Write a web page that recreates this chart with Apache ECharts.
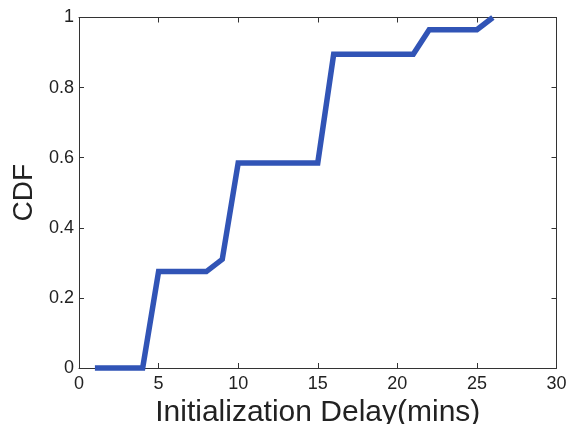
<!DOCTYPE html>
<html>
<head>
<meta charset="utf-8">
<script src="https://cdn.jsdelivr.net/npm/echarts@6/dist/echarts.min.js"></script>
<style>html,body{margin:0;padding:0;background:#fff}#c{width:571px;height:424px}</style>
</head>
<body>
<div id="c"></div>
<script>
const delayMins = [1, 4, 5, 8, 9, 10, 15, 16, 21, 22, 25, 26];
const cdfValues = [0, 0, 0.275, 0.275, 0.31, 0.585, 0.585, 0.895, 0.895, 0.965, 0.965, 1];
const xName = 'Initialization Delay(mins)';
const yName = 'CDF';

const chart = echarts.init(document.getElementById('c'), null, {renderer: 'canvas'});
const axisLine = {show: true, onZero: false, lineStyle: {color: '#333', width: 1}};
const tick = {show: true, inside: true, length: 5, lineStyle: {color: '#333'}};
const font = 'Liberation Sans, Arial, sans-serif';
chart.setOption({
  animation: false,
  backgroundColor: '#fff',
  grid: {left: 79, right: 14.5, top: 17.5, bottom: 56, containLabel: false, outerBoundsMode: 'none'},
  xAxis: [{
    type: 'value', min: 0, max: 30, interval: 5, position: 'bottom',
    axisLine, axisTick: tick,
    splitLine: {show: false},
    axisLabel: {color: '#222', fontSize: 18, fontFamily: font, margin: 7},
    name: xName, nameLocation: 'middle', nameGap: 26,
    nameTextStyle: {color: '#222', fontSize: 30, fontFamily: font}
  }, {
    type: 'value', min: 0, max: 30, interval: 5, position: 'top',
    axisLine, axisTick: tick,
    axisLabel: {show: false}, splitLine: {show: false}
  }],
  yAxis: [{
    type: 'value', min: 0, max: 1, interval: 0.2, position: 'left',
    axisLine, axisTick: tick,
    splitLine: {show: false},
    axisLabel: {color: '#222', fontSize: 18, fontFamily: font, margin: 5,
      formatter: v => (v === 0 || v === 1) ? String(v) : v.toFixed(1)},
    name: yName, nameLocation: 'middle', nameGap: 37, nameRotate: 90,
    nameTextStyle: {color: '#222', fontSize: 28, fontFamily: font}
  }, {
    type: 'value', min: 0, max: 1, interval: 0.2, position: 'right',
    axisLine, axisTick: tick,
    axisLabel: {show: false}, splitLine: {show: false}
  }],
  series: [{
    type: 'line',
    data: delayMins.map((x, i) => [x, cdfValues[i]]),
    showSymbol: false,
    lineStyle: {color: '#3154b6', width: 5.5, join: 'miter'},
    clip: false
  }]
});
</script>
</body>
</html>
